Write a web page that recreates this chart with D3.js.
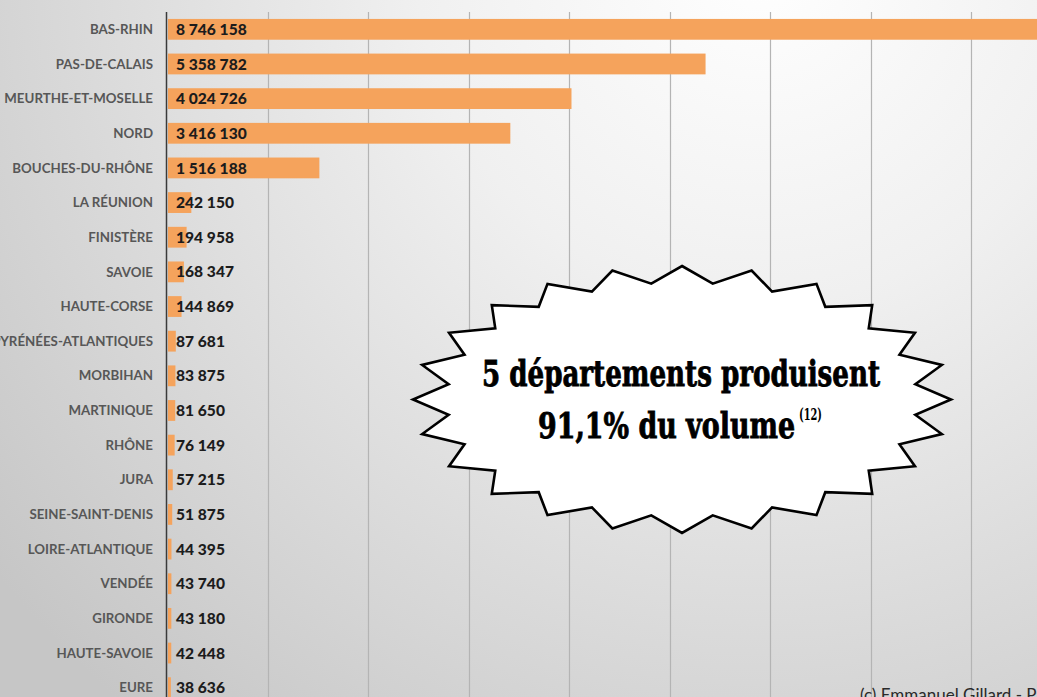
<!DOCTYPE html>
<html>
<head>
<meta charset="utf-8">
<script src="https://cdn.jsdelivr.net/npm/d3@7"></script>
<style>
  body { margin: 0; overflow: hidden; }
  svg { display: block; }
</style>
</head>
<body>
<svg id="chart"></svg>
<script>
// departements, largest first
const departements = [
    "BAS-RHIN", "PAS-DE-CALAIS", "MEURTHE-ET-MOSELLE", "NORD", "BOUCHES-DU-RHÔNE",
    "LA RÉUNION", "FINISTÈRE", "SAVOIE", "HAUTE-CORSE", "PYRÉNÉES-ATLANTIQUES",
    "MORBIHAN", "MARTINIQUE", "RHÔNE", "JURA", "SEINE-SAINT-DENIS",
    "LOIRE-ATLANTIQUE", "VENDÉE", "GIRONDE", "HAUTE-SAVOIE", "EURE"
];
const volumes = [
    8746158, 5358782, 4024726, 3416130, 1516188,
    242150, 194958, 168347, 144869, 87681,
    83875, 81650, 76149, 57215, 51875,
    44395, 43740, 43180, 42448, 38636
];
const gridValues = [1000000, 2000000, 3000000, 4000000, 5000000, 6000000, 7000000, 8000000, 9000000];
const calloutLines = ["5 départements produisent", "91,1% du volume"];
const calloutNote = "(12)";
const credit = "(c) Emmanuel Gillard - Passion Bière";

const width = 1037;
const height = 697;

const svg = d3.select("#chart")
    .attr("width", width)
    .attr("height", height);

// background: light top right, grey towards the edges
const defs = svg.append("defs");
const bg = defs.append("radialGradient")
    .attr("id", "bg")
    .attr("gradientUnits", "userSpaceOnUse")
    .attr("cx", 760).attr("cy", -40).attr("r", 980);
bg.append("stop").attr("offset", "0%").attr("stop-color", "#ffffff");
bg.append("stop").attr("offset", "35%").attr("stop-color", "#f0f0f0");
bg.append("stop").attr("offset", "100%").attr("stop-color", "#c6c6c6");

svg.append("rect")
    .attr("width", width)
    .attr("height", height)
    .attr("fill", "url(#bg)");

const data = departements.map((d, i) => ({ name: d, value: volumes[i] }));

const x = d3.scaleLinear()
    .domain([0, 9000000])
    .range([167, 167 + 9 * 100.5]);

const y = d3.scaleBand()
    .domain(departements)
    .range([12, 705])
    .paddingInner(0.4)
    .paddingOuter(0.2);

const fmt = d3.formatLocale({ decimal: ",", thousands: "\u00a0", grouping: [3], currency: ["", " €"] }).format(",d");

// vertical grid
svg.append("g")
    .selectAll("line")
    .data(gridValues)
    .join("line")
    .attr("x1", d => Math.round(x(d)) + 0.5)
    .attr("x2", d => Math.round(x(d)) + 0.5)
    .attr("y1", 12)
    .attr("y2", height)
    .attr("stroke", "#b4b4b4")
    .attr("stroke-width", 1.2);

// bars
svg.append("g")
    .selectAll("rect")
    .data(data)
    .join("rect")
    .attr("x", x(0) + 1)
    .attr("y", d => y(d.name))
    .attr("width", d => Math.max(0, x(d.value) - x(0) - 1))
    .attr("height", y.bandwidth())
    .attr("fill", "#f5a35c");

// axis line
svg.append("line")
    .attr("x1", 166.5).attr("x2", 166.5)
    .attr("y1", 12).attr("y2", height)
    .attr("stroke", "#3a3a3a")
    .attr("stroke-width", 1.5);

// category labels
svg.append("g")
    .selectAll("text")
    .data(data)
    .join("text")
    .attr("x", 153)
    .attr("y", d => y(d.name) + y.bandwidth() / 2)
    .attr("dy", "0.35em")
    .attr("text-anchor", "end")
    .attr("font-family", "Lato, 'Open Sans', sans-serif")
    .attr("font-weight", "bold")
    .attr("font-size", 13.3)
    .attr("fill", "#575757")
    .text(d => d.name);

// value labels
svg.append("g")
    .selectAll("text")
    .data(data)
    .join("text")
    .attr("x", 176)
    .attr("y", d => y(d.name) + y.bandwidth() / 2)
    .attr("dy", "0.36em")
    .attr("font-family", "Lato, 'Open Sans', sans-serif")
    .attr("font-weight", "900")
    .attr("font-size", 15.6)
    .attr("fill", "#1c1c1c")
    .text(d => fmt(d.value));

// 24 point star callout
const cx = 682, cy = 399.5, rx = 269, ry = 133.5, inner = 0.875;
const starPts = d3.range(48).map(i => {
    const a = -Math.PI / 2 + i * Math.PI / 24;
    const k = i % 2 === 0 ? 1 : inner;
    return [cx + rx * k * Math.cos(a), cy + ry * k * Math.sin(a)];
});

svg.append("path")
    .attr("d", d3.line()(starPts) + "Z")
    .attr("fill", "#ffffff")
    .attr("stroke", "#000000")
    .attr("stroke-width", 2.6)
    .attr("stroke-linejoin", "miter");

const calloutFont = "'DejaVu Serif Condensed', 'DejaVu Serif', serif";

svg.append("text")
    .attr("x", 482)
    .attr("y", 386)
    .attr("font-family", calloutFont)
    .attr("font-stretch", "condensed")
    .attr("font-weight", "900")
    .attr("font-size", 35)
    .attr("textLength", 398)
    .attr("lengthAdjust", "spacingAndGlyphs")
    .attr("fill", "#000")
    .attr("stroke", "#000")
    .attr("stroke-width", 0.8)
    .text(calloutLines[0]);

svg.append("text")
    .attr("x", 538)
    .attr("y", 438)
    .attr("font-family", calloutFont)
    .attr("font-stretch", "condensed")
    .attr("font-weight", "900")
    .attr("font-size", 35)
    .attr("textLength", 257)
    .attr("lengthAdjust", "spacingAndGlyphs")
    .attr("fill", "#000")
    .attr("stroke", "#000")
    .attr("stroke-width", 0.8)
    .text(calloutLines[1]);

svg.append("text")
    .attr("x", 799)
    .attr("y", 420)
    .attr("font-family", calloutFont)
    .attr("font-stretch", "condensed")
    .attr("font-weight", "bold")
    .attr("font-size", 17)
    .attr("textLength", 23)
    .attr("lengthAdjust", "spacingAndGlyphs")
    .attr("fill", "#000")
    .text(calloutNote);

// credit, cut by the bottom edge
svg.append("text")
    .attr("x", 860)
    .attr("y", 701)
    .attr("font-family", "Lato, sans-serif")
    .attr("font-size", 17)
    .attr("fill", "#2a2a2a")
    .text(credit);
</script>
</body>
</html>
